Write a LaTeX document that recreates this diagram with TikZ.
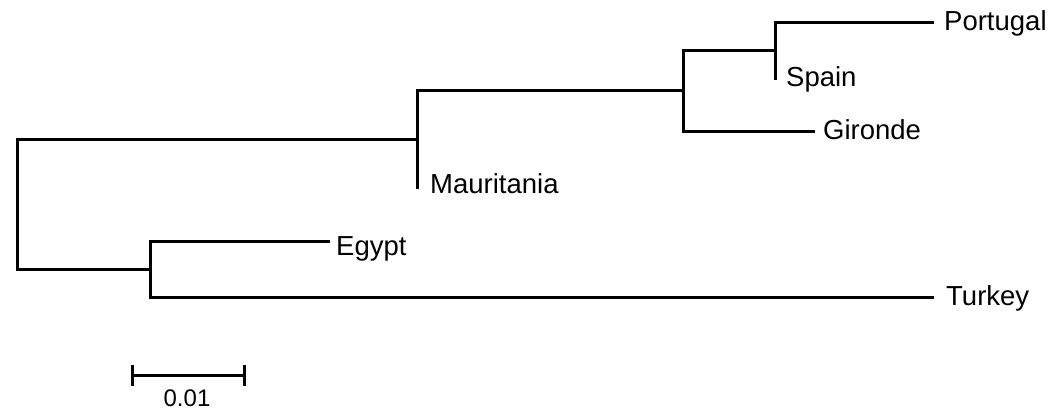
\documentclass[tikz,border=0pt]{standalone}
\usepackage{fontspec}
\setmainfont{Liberation Sans}
\begin{document}
\begin{tikzpicture}[x=1pt,y=-1pt,
  br/.style={line width=3pt,line cap=rect},
  lab/.style={anchor=base west,inner sep=0pt,font=\fontsize{27.5}{30}\selectfont}]
\useasboundingbox (0,0) rectangle (1061,410);
% internal nodes
\coordinate (r1) at (17,139);
\coordinate (r2) at (17,269);
\coordinate (n1t) at (417,90);
\coordinate (n1b) at (417,187);
\coordinate (n1) at (417,139);
\coordinate (n2) at (683,90);
\coordinate (n2t) at (683,50);
\coordinate (n2b) at (683,131);
\coordinate (n3) at (775,50);
\coordinate (n3t) at (775,22);
\coordinate (n3b) at (775,78);
\coordinate (n4) at (150,269);
\coordinate (n4t) at (150,241);
\coordinate (n4b) at (150,297);
% leaf ends
\coordinate (ePor) at (932,22);
\coordinate (eGir) at (813,131);
\coordinate (eEgy) at (328,241);
\coordinate (eTur) at (932,297);
% labels
\node[lab] (Portugal) at (944,30) {Portugal};
\node[lab] (Spain) at (786,86) {Spain};
\node[lab] (Gironde) at (823,139) {Gironde};
\node[lab] (Mauritania) at (430,193) {Mauritania};
\node[lab] (Egypt) at (336,255) {Egypt};
\node[lab] (Turkey) at (946,305) {Turkey};
% tree
\draw[br] (r1) -- (r2);
\draw[br] (r1) -- (n1);
\draw[br] (n1t) -- (n1b);
\draw[br] (n1t) -- (n2);
\draw[br] (n2t) -- (n2b);
\draw[br] (n2b) -- (eGir);
\draw[br] (n2t) -- (n3);
\draw[br] (n3t) -- (n3b);
\draw[br] (n3t) -- (ePor);
\draw[br] (r2) -- (n4);
\draw[br] (n4t) -- (n4b);
\draw[br] (n4t) -- (eEgy);
\draw[br] (n4b) -- (eTur);
% scale bar
\coordinate (s1) at (132,375);
\coordinate (s2) at (244,375);
\draw[br] (s1) -- (s2);
\draw[br] ([yshift=-9pt]s1) -- ([yshift=9pt]s1);
\draw[br] ([yshift=-9pt]s2) -- ([yshift=9pt]s2);
\node[inner sep=0pt,font=\fontsize{24}{26}\selectfont,anchor=base] (scale) at (187,406) {0.01};
\end{tikzpicture}
\end{document}
